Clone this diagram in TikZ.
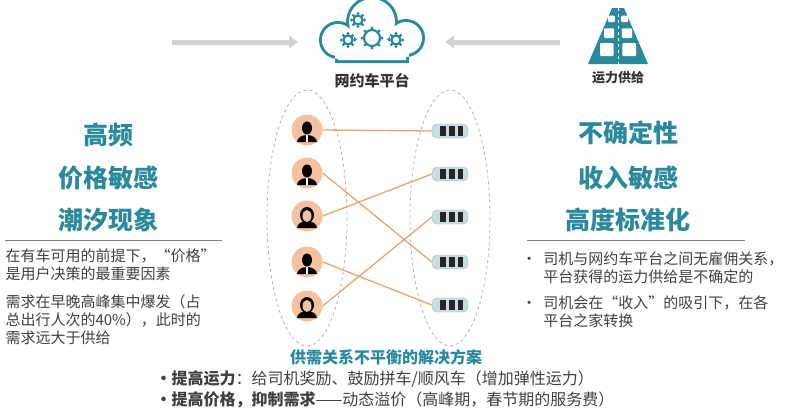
\documentclass[tikz,border=0pt]{standalone}
\usepackage{fontspec}
\setmainfont{Noto Sans CJK SC}
\usetikzlibrary{arrows.meta,calc}
\definecolor{tealc}{HTML}{2A8A9C}
\definecolor{skin}{HTML}{F4C2A0}
\definecolor{linko}{HTML}{E9A36C}
\definecolor{carc}{HTML}{C9DCE0}
\tikzset{
  head/.style={font=\bfseries\fontsize{25}{28}\selectfont, text=tealc},
  body/.style={font=\fontsize{15}{18}\selectfont, text=black!75, align=left, anchor=north west},
  link/.style={linko, line width=1.3pt},
  group/.style={draw=gray!60, dashed, thick},
  flow/.style={gray!35, line width=5pt, -{Triangle[length=9pt,width=12pt]}},
}
\newcommand{\person}[3]{% name, position, female?
  \node[circle, fill=skin, minimum size=31pt, inner sep=0pt] (#1) at #2 {};
  \fill[black] ($(#1)+(-10,12)$) arc (180:360:10 and 7) -- cycle;
  \ifnum#3=1 \fill[black] ($(#1)+(0,-1)$) ellipse (7 and 8); \fill[skin] ($(#1)+(0,0)$) ellipse (4.5 and 6); \else
  \fill[black] ($(#1)+(0,-2)$) ellipse (5 and 6.5); \fill[white] ($(#1)+(-1,5)$) rectangle ($(#1)+(1,12)$); \fi
}
\newcommand{\car}[2]{%
  \node[rounded corners=5pt, fill=carc, draw=gray!60, minimum width=36pt, minimum height=14pt, inner sep=0pt] (#1) at #2 {};
  \fill[black!85] ($(#1)+(-10,-5)$) rectangle ($(#1)+(-4,5)$);
  \fill[black!85] ($(#1)+(-1,-5)$) rectangle ($(#1)+(5,5)$);
  \fill[black!85] ($(#1)+(8,-5)$) rectangle ($(#1)+(13,5)$);
}
\begin{document}
\begin{tikzpicture}[x=1pt, y=-1pt]
  \useasboundingbox (0,0) rectangle (800,413);

  % Flechas hacia la plataforma
  \coordinate (inL) at (172,42);
  \coordinate (inR) at (560,42);
  \draw[flow] (inL) -- (298,42);
  \draw[flow] (inR) -- (445,42);

  % Nube con engranajes
  \fill[tealc] (338,40) circle (19) (372,22) circle (26) (406,38) circle (19) (335,40) rectangle (409,63);
  \fill[white] (338,40) circle (16) (372,22) circle (23) (406,38) circle (16) (338,40) rectangle (406,60);
  \foreach \gx/\gy/\gr in {348/40/4.5, 372/38/8, 396/40/4.5, 358/20/4.5}{
    \draw[tealc, line width=2.2pt] (\gx,\gy) circle (\gr);
    \foreach \a in {0,45,...,315}
      \fill[tealc] ($(\gx,\gy)+(\a:\gr+2)$) circle (1.6);
  }
  \node[font=\bfseries\fontsize{15}{17}\selectfont, text=black!80] (plat) at (372,81) {网约车平台};

  % Carretera con coches
  \fill[tealc] (588,64) -- (612,8) -- (624,8) -- (648,64) -- cycle;
  \draw[white, line width=1pt, dashed] (618,8) -- (618,64);
  \foreach \cy/\cw in {18/4, 32/6, 48/8}{
    \fill[white, rounded corners=1pt] (616-2*\cw,\cy-\cw*0.6) rectangle (616-\cw*0.3,\cy+\cw);
    \fill[white, rounded corners=1pt] (620+\cw*0.3,\cy-\cw*0.6) rectangle (620+2*\cw,\cy+\cw);
  }
  \node[font=\bfseries\fontsize{13}{15}\selectfont, text=black!80] (supply) at (618,78) {运力供给};

  % Grupos
  \draw[group] (307,218) ellipse (40 and 128);
  \draw[group] (450,218) ellipse (40 and 128);
  \person{p1}{(307,130)}{0}
  \person{p2}{(307,173)}{0}
  \person{p3}{(307,216)}{1}
  \person{p4}{(307,262)}{0}
  \person{p5}{(307,306)}{1}
  \car{c1}{(450,131)}
  \car{c2}{(450,174)}
  \car{c3}{(450,217)}
  \car{c4}{(450,262)}
  \car{c5}{(450,305)}
  \draw[link] (p1.east) -- (c1.west);
  \draw[link] (p2.east) -- (c4.west);
  \draw[link] (p3.east) -- (c2.west);
  \draw[link] (p4.east) -- (c5.west);
  \draw[link] (p5.east) -- (c3.west);

  % Demanda
  \node[head] (d1) at (108,135) {高频};
  \node[head] (d2) at (108,178) {价格敏感};
  \node[head] (d3) at (108,220) {潮汐现象};
  \draw[gray, thick] (5,240) -- (222,240);
  \node[body] (dt1) at (2,245) {在有车可用的前提下，“价格”\\是用户决策的最重要因素};
  \node[body] (dt2) at (2,291) {需求在早晚高峰集中爆发（占\\总出行人次的40\%），此时的\\需求远大于供给};

  % Oferta
  \node[head] (s1) at (628,133) {不确定性};
  \node[head] (s2) at (628,178) {收入敏感};
  \node[head] (s3) at (628,220) {高度标准化};
  \draw[gray, thick] (527,240) -- (745,240);
  \node[body] (st1) at (518,248) {•\ \ 司机与网约车平台之间无雇佣关系，\\\phantom{•}\ \ 平台获得的运力供给是不确定的};
  \node[body] (st2) at (518,292) {•\ \ 司机会在“收入”的吸引下，在各\\\phantom{•}\ \ 平台之家转换};

  % Solucion
  \node[font=\bfseries\fontsize{16}{18}\selectfont, text=tealc] (sol) at (386,357) {供需关系不平衡的解决方案};
  \node[font=\fontsize{16}{18}\selectfont, text=black!75, anchor=west] (sol1) at (152,379) {\textbf{•提高运力}：给司机奖励、鼓励拼车/顺风车（增加弹性运力）};
  \node[font=\fontsize{16}{18}\selectfont, text=black!75, anchor=west] (sol2) at (152,400) {\textbf{•提高价格，抑制需求}——动态溢价（高峰期，春节期的服务费）};
\end{tikzpicture}
\end{document}
